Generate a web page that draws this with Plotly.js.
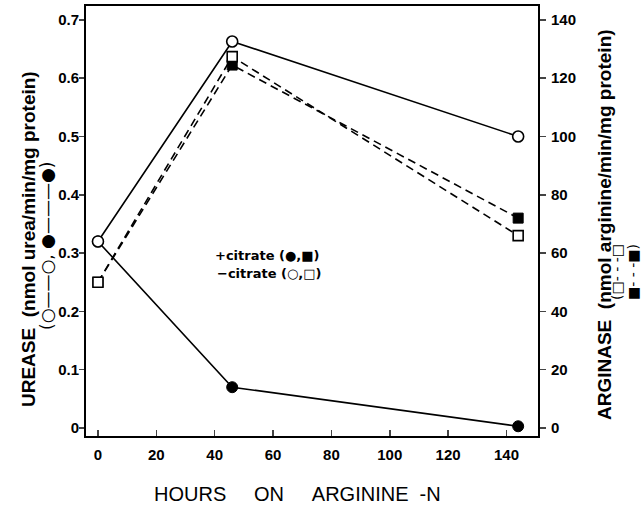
<!DOCTYPE html>
<html>
<head>
<meta charset="utf-8">
<script src="https://cdn.plot.ly/plotly-3.0.1.min.js"></script>
<style>html,body{margin:0;padding:0;background:#fff;}#chart{width:644px;height:508px;}</style>
</head>
<body>
<div id="chart"></div>
<script>
// Data
const hours = [0, 46, 144];
const ureasePlusCitrate = [0.32, 0.07, 0.003];   // filled circles
const ureaseMinusCitrate = [0.32, 0.663, 0.50];  // open circles
const arginasePlusCitrate = [50, 124.5, 72];     // filled squares
const arginaseMinusCitrate = [50, 127.4, 66];    // open squares
const xTicks = [0, 20, 40, 60, 80, 100, 120, 140];
const yLeftTicks = [0, 0.1, 0.2, 0.3, 0.4, 0.5, 0.6, 0.7];
const yLeftLabels = ['0', '0.1', '0.2', '0.3', '0.4', '0.5', '0.6', '0.7'];
const yRightTicks = [0, 20, 40, 60, 80, 100, 120, 140];

const W = 644, H = 508;
const L = 86, R = 106, T = 6, B = 72;
const plotW = W - L - R, plotH = H - T - B;
const px = (x) => (x - L) / plotW;
const py = (y) => (H - B - y) / plotH;

const lineW = 1.6;
const traces = [
  {x: hours, y: arginasePlusCitrate, yaxis: 'y2', mode: 'lines+markers',
   line: {color: '#000', width: lineW, dash: '8px,5px'},
   marker: {symbol: 'square', size: 10, color: '#000', line: {color: '#000', width: 1}}},
  {x: hours, y: arginaseMinusCitrate, yaxis: 'y2', mode: 'lines+markers',
   line: {color: '#000', width: lineW, dash: '8px,5px'},
   marker: {symbol: 'square', size: 10, color: '#fff', line: {color: '#000', width: 1.6}}},
  {x: hours, y: ureasePlusCitrate, mode: 'lines+markers',
   line: {color: '#000', width: lineW},
   marker: {symbol: 'circle', size: 11, color: '#000', line: {color: '#000', width: 1}}},
  {x: hours, y: ureaseMinusCitrate, mode: 'lines+markers',
   line: {color: '#000', width: lineW},
   marker: {symbol: 'circle', size: 11, color: '#fff', line: {color: '#000', width: 1.6}}}
];

const tickFont = {family: 'Arial, Liberation Sans, sans-serif', size: 15, color: '#000', weight: 'bold'};
const titleFont = {family: 'Arial, Liberation Sans, sans-serif', size: 19, color: '#000', weight: 'bold'};
const symFont = {family: 'DejaVu Sans, sans-serif', size: 17, color: '#000'};

function ann(x, y, text, font, extra) {
  return Object.assign({xref: 'paper', yref: 'paper', x: px(x), y: py(y), text: text, showarrow: false,
    xanchor: 'center', yanchor: 'middle', font: font}, extra || {});
}

const layout = {
  width: W, height: H,
  margin: {l: L, r: R, t: T, b: B},
  paper_bgcolor: '#fff', plot_bgcolor: '#fff',
  showlegend: false,
  xaxis: {range: [-4.1, 150.8], tickvals: xTicks, ticks: 'inside', ticklen: 6, tickwidth: 1.5,
          showline: true, linewidth: 2, linecolor: '#000', mirror: true, showgrid: false, zeroline: false,
          tickfont: tickFont, ticklabelstandoff: 4},
  yaxis: {range: [-0.0137, 0.7238], tickvals: yLeftTicks, ticktext: yLeftLabels, ticks: 'outside', ticklen: 5,
          tickwidth: 1.5, showline: true, linewidth: 2, linecolor: '#000', showgrid: false, zeroline: false,
          tickfont: tickFont, ticklabelstandoff: -3},
  yaxis2: {range: [-2.74, 144.76], overlaying: 'y', side: 'right', tickvals: yRightTicks, ticks: 'outside',
           ticklen: 6, tickwidth: 1.5, showline: true, linewidth: 2, linecolor: '#000', showgrid: false,
           zeroline: false, tickfont: tickFont, ticklabelstandoff: 2},
  annotations: [
    ann(297, 494, 'HOURS\u00a0\u00a0\u00a0\u00a0\u00a0ON\u00a0\u00a0\u00a0\u00a0\u00a0ARGININE\u00a0\u00a0-N',
        {family: 'Arial, Liberation Sans, sans-serif', size: 20, color: '#000'}),
    ann(28, 239, 'UREASE\u00a0\u00a0(nmol urea/min/mg protein)', titleFont, {textangle: -90}),
    ann(47, 246, '(\u25CB\u2014\u2014\u25CB,\u00a0\u25CF\u2014\u2014\u2014\u25CF)', symFont, {textangle: -90}),
    ann(604, 225, 'ARGINASE\u00a0\u00a0(nmol arginine/min/mg protein)', titleFont, {textangle: -90}),
    ann(617, 272, '(\u25A1- - -\u25A1', {family: 'DejaVu Sans, sans-serif', size: 14, color: '#000'}, {textangle: -90}),
    ann(633, 272, '\u25A0- - -\u25A0)', {family: 'DejaVu Sans, sans-serif', size: 14, color: '#000'}, {textangle: -90}),
    ann(213, 256, '<b>+citrate (\u25CF,\u25A0)</b>',
        {family: 'DejaVu Sans, sans-serif', size: 13, color: '#000'}, {xanchor: 'left'}),
    ann(215, 273, '<b>\u2212citrate (\u25CB,\u25A1)</b>',
        {family: 'DejaVu Sans, sans-serif', size: 13, color: '#000'}, {xanchor: 'left'})
  ]
};

Plotly.newPlot('chart', traces, layout, {displayModeBar: false, staticPlot: true});
</script>
</body>
</html>
